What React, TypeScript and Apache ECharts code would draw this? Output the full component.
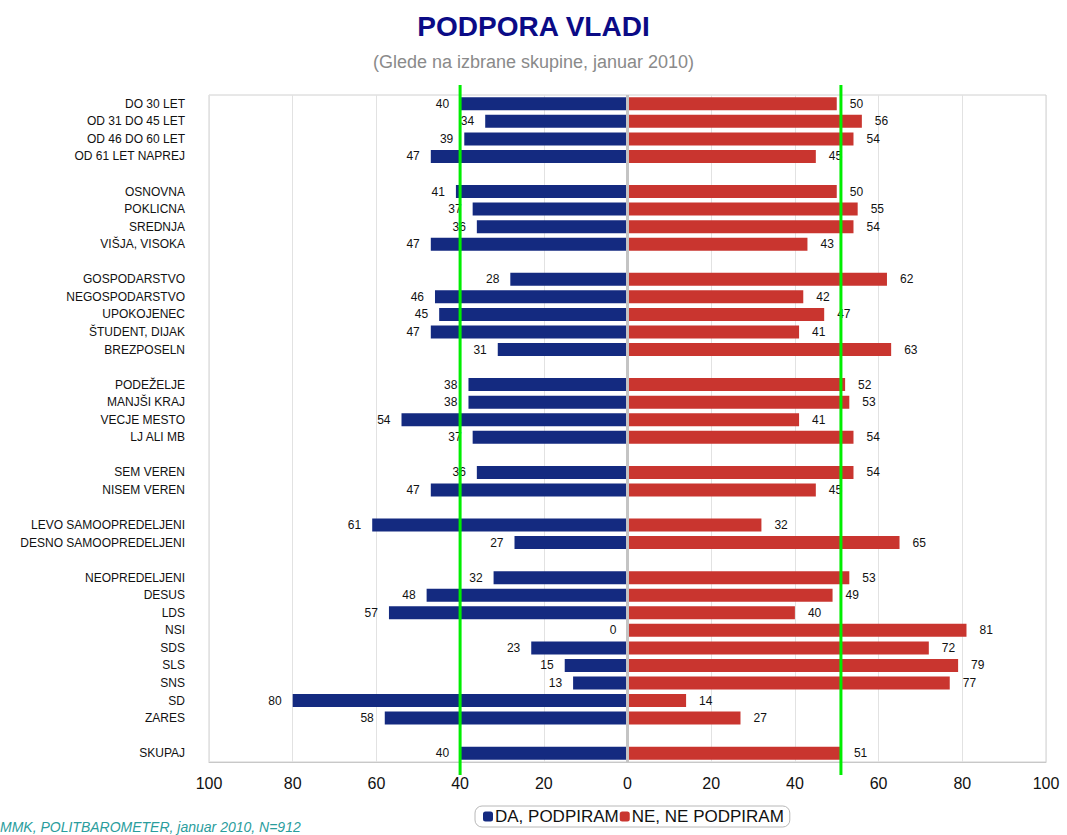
import React, { useEffect, useRef } from "react";
import * as echarts from "echarts";

const categories: string[] = [
  "DO 30 LET", "OD 31 DO 45 LET", "OD 46 DO 60 LET", "OD 61 LET NAPREJ", " ",
  "OSNOVNA", "POKLICNA", "SREDNJA", "VIŠJA, VISOKA", "  ",
  "GOSPODARSTVO", "NEGOSPODARSTVO", "UPOKOJENEC", "ŠTUDENT, DIJAK", "BREZPOSELN", "   ",
  "PODEŽELJE", "MANJŠI KRAJ", "VECJE MESTO", "LJ ALI MB", "    ",
  "SEM VEREN", "NISEM VEREN", "     ",
  "LEVO SAMOOPREDELJENI", "DESNO SAMOOPREDELJENI", "      ",
  "NEOPREDELJENI", "DESUS", "LDS", "NSI", "SDS", "SLS", "SNS", "SD", "ZARES", "       ",
  "SKUPAJ",
];

const daPodpiram: (number | null)[] = [
  40, 34, 39, 47, null,
  41, 37, 36, 47, null,
  28, 46, 45, 47, 31, null,
  38, 38, 54, 37, null,
  36, 47, null,
  61, 27, null,
  32, 48, 57, 0, 23, 15, 13, 80, 58, null,
  40,
];

const neNePodpiram: (number | null)[] = [
  50, 56, 54, 45, null,
  50, 55, 54, 43, null,
  62, 42, 47, 41, 63, null,
  52, 53, 41, 54, null,
  54, 45, null,
  32, 65, null,
  53, 49, 40, 81, 72, 79, 77, 14, 27, null,
  51,
];

const xTicks = [-100, -80, -60, -40, -20, 0, 20, 40, 60, 80, 100];
const referenceLines = [-40, 51];

const BLUE = "#142a80";
const RED = "#c9352f";
const FONT = "Liberation Sans, Arial, sans-serif";

export default function App() {
  const ref = useRef<HTMLDivElement>(null);

  useEffect(() => {
    if (!ref.current) return;
    const chart = echarts.init(ref.current, null, { renderer: "svg" });
    const gridTop = 95;
    const gridBottom = 73;
    const height = 835;
    chart.setOption({
      animation: false,
      backgroundColor: "#ffffff",
      textStyle: { fontFamily: FONT },
      title: {
        text: "PODPORA VLADI",
        subtext: "(Glede na izbrane skupine, januar 2010)",
        left: "center",
        top: 7,
        itemGap: 13,
        textStyle: {
          fontSize: 28,
          fontWeight: "bold",
          color: "#0b0b86",
          fontFamily: FONT,
        },
        subtextStyle: {
          fontSize: 18,
          color: "#8a8a8a",
          fontFamily: FONT,
        },
      },
      legend: {
        top: 806,
        left: 475,
        itemWidth: 10,
        itemHeight: 10,
        itemGap: 1,
        padding: [2, 6, 2, 8],
        borderColor: "#b8b8b8",
        borderWidth: 1,
        borderRadius: 7,
        textStyle: { fontSize: 17, color: "#111", padding: [0, 0, 0, -3] },
        data: ["DA, PODPIRAM", "NE, NE PODPIRAM"],
      },
      grid: {
        left: 209,
        right: 21,
        top: gridTop,
        bottom: gridBottom,
        containLabel: false,
        outerBoundsMode: "none",
        show: true,
        borderColor: "#d0d0d0",
        borderWidth: 1,
      },
      xAxis: {
        type: "value",
        min: -100,
        max: 100,
        interval: 20,
        axisLine: { show: true, lineStyle: { color: "#c8c8c8", width: 1 } },
        axisTick: { show: false },
        splitLine: { show: true, lineStyle: { color: "#e2e2e2", width: 1 } },
        axisLabel: {
          fontSize: 16,
          color: "#111",
          margin: 13,
          formatter: (v: number) => (xTicks.includes(v) ? String(Math.abs(v)) : ""),
        },
      },
      yAxis: {
        type: "category",
        inverse: true,
        data: categories,
        axisLine: { show: false },
        axisTick: { show: false },
        splitLine: { show: false },
        axisLabel: { fontSize: 12, color: "#111", margin: 24 },
      },
      series: [
        {
          name: "DA, PODPIRAM",
          type: "bar",
          stack: "total",
          barWidth: 13,
          itemStyle: { color: BLUE },
          data: daPodpiram.map((v) => (v == null ? null : -v)),
          label: {
            show: true,
            position: "left",
            distance: 11,
            fontSize: 12,
            color: "#111",
            formatter: (p: any) => String(Math.abs(p.value)),
          },
          markLine: {
            silent: true,
            symbol: "none",
            label: { show: false },
            lineStyle: { color: "#c4c4c4", width: 3, type: "solid" },
            data: [{ xAxis: 0 }],
          },
        },
        {
          name: "NE, NE PODPIRAM",
          type: "bar",
          stack: "total",
          barWidth: 13,
          itemStyle: { color: RED },
          data: neNePodpiram,
          label: {
            show: true,
            position: "right",
            distance: 13,
            fontSize: 12,
            color: "#111",
          },
        },
      ],
    });

    const top = gridTop - 10;
    const bottom = height - gridBottom + 13;
    const lines = referenceLines.map((v) => {
      const x = chart.convertToPixel({ xAxisIndex: 0 }, v) as number;
      return {
        type: "line",
        z: 100,
        silent: true,
        shape: { x1: x, y1: top, x2: x, y2: bottom },
        style: { stroke: "#00ee00", lineWidth: 3 },
      };
    });
    chart.setOption({
      graphic: [
        ...lines,
        {
          type: "text",
          left: 0,
          top: 820,
          style: {
            text: "MMK, POLITBAROMETER, januar 2010, N=912",
            fill: "#2a9d9d",
            font: "italic 14px Liberation Sans, Arial, sans-serif",
          },
        },
      ],
    });

    return () => chart.dispose();
  }, []);

  return <div ref={ref} style={{ width: 1067, height: 835, position: "absolute", left: 0, top: 0 }} />;
}
